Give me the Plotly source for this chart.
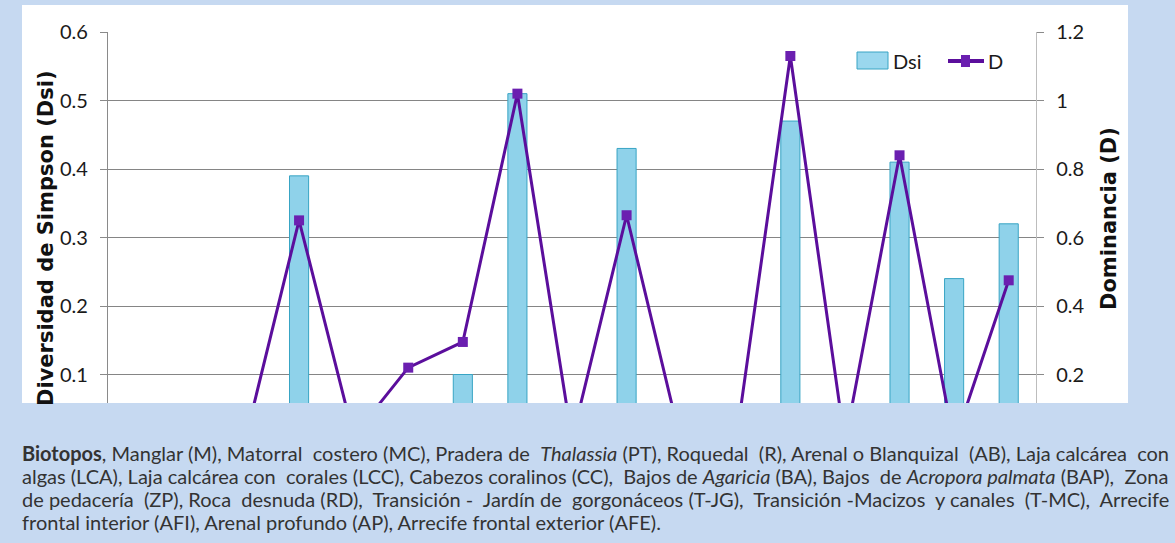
import plotly.graph_objects as go

# Biotope codes along the category axis
biotopos = ["M", "MC", "PT", "R", "AB", "LCA", "LCC", "CC", "BA", "BAP",
            "ZP", "RD", "T-JG", "T-MC", "AFI", "AP", "AFE"]
# Simpson diversity (left axis, bars)
dsi = [0, 0, 0, 0.39, 0, 0, 0.10, 0.51, 0, 0.43, 0, 0, 0.47, 0, 0.41, 0.24, 0.32]
# Dominance (right axis, line)
dom = [0, 0, 0, 0.65, 0.02, 0.22, 0.295, 1.02, 0.01, 0.665, 0, 0, 1.13, 0, 0.84, 0, 0.475]
# Labelled ticks on each value axis
dsi_ticks = [0.1, 0.2, 0.3, 0.4, 0.5, 0.6]
dom_ticks = [0.2, 0.4, 0.6, 0.8, 1.0, 1.2]

caption_lines = [
    "<b>Biotopos</b>, Manglar (M), Matorral costero (MC), Pradera de <i>Thalassia</i> (PT), "
    "Roquedal (R), Arenal o Blanquizal (AB), Laja calcárea con",
    "algas (LCA), Laja calcárea con corales (LCC), Cabezos coralinos (CC), Bajos de "
    "<i>Agaricia</i> (BA), Bajos de <i>Acropora palmata</i> (BAP), Zona",
    "de pedacería (ZP), Roca desnuda (RD), Transición - Jardín de gorgonáceos (T-JG), "
    "Transición -Macizos y canales (T-MC), Arrecife",
    "frontal interior (AFI), Arenal profundo (AP), Arrecife frontal exterior (AFE).",
]
# extra non-breaking spaces spread over each line's word gaps (justified paragraph)
caption_pad = [5, 4, 9, 0]
caption_y = [453, 476, 499, 522]

W, H = 1175, 543
ML, MR, MT, MB = 108, 139, 32, 100
PW, PH = W - ML - MR, H - MT - MB
BG = "#c6d9f1"
PURPLE = "#5b0e9c"
MARK = "#6b1fb0"
BAR = "#8fd2ea"
BAR_EDGE = "#38a4c4"
GRID = "#858585"
TICK_FONT = dict(family="Lato", size=20, color="#1a1a1a")
TITLE_FONT = dict(family="DejaVu Sans", size=21, color="#111111")


def px(x):
    return (x - ML) / PW


def py(y):
    return (H - MB - y) / PH


def justify(text, extra):
    words = text.split(" ")
    gaps = len(words) - 1
    out = words[0]
    for k in range(gaps):
        n = (extra * (k + 1)) // gaps - (extra * k) // gaps if gaps else 0
        out += " " + "\u00a0" * n + words[k + 1]
    return out


fig = go.Figure()
fig.add_trace(go.Bar(
    x=biotopos, y=dsi, name="Dsi",
    marker=dict(color=BAR, line=dict(color=BAR_EDGE, width=1)),
))
fig.add_trace(go.Scatter(
    x=biotopos, y=dom, name="D", yaxis="y2", mode="lines+markers",
    line=dict(color=PURPLE, width=3),
    marker=dict(symbol="square", size=10, color=MARK, line=dict(width=0)),
))

shapes = [
    # white chart panel
    dict(type="rect", xref="paper", yref="paper", layer="below",
         x0=px(22), x1=px(1128), y0=py(403), y1=py(5),
         fillcolor="white", line=dict(width=0)),
    # caption band over the lower part of the chart
    dict(type="rect", xref="paper", yref="paper", layer="above",
         x0=px(0), x1=px(W), y0=py(H), y1=py(403),
         fillcolor=BG, line=dict(width=0)),
    # legend: Dsi swatch
    dict(type="rect", xref="paper", yref="paper", layer="above",
         x0=px(857), x1=px(888), y0=py(69), y1=py(52),
         fillcolor="#9ad7ee", line=dict(color=BAR_EDGE, width=1)),
    # legend: D line sample with marker
    dict(type="line", xref="paper", yref="paper", layer="above",
         x0=px(948), x1=px(984), y0=py(61), y1=py(61),
         line=dict(color=PURPLE, width=4)),
    dict(type="rect", xref="paper", yref="paper", layer="above",
         x0=px(961), x1=px(970), y0=py(67), y1=py(55),
         fillcolor=MARK, line=dict(width=0)),
]

annotations = [
    dict(text="<b>Diversidad de Simpson (Dsi)</b>", textangle=-90,
         xref="paper", yref="paper", x=px(46), y=py(238),
         xanchor="center", yanchor="middle", showarrow=False, font=TITLE_FONT),
    dict(text="<b>Dominancia (D)</b>", textangle=-90,
         xref="paper", yref="paper", x=px(1109), y=py(219),
         xanchor="center", yanchor="middle", showarrow=False, font=TITLE_FONT),
    dict(text="Dsi", xref="paper", yref="paper", x=px(891), y=py(61),
         xanchor="left", yanchor="middle", showarrow=False, font=TICK_FONT),
    dict(text="D", xref="paper", yref="paper", x=px(986), y=py(61),
         xanchor="left", yanchor="middle", showarrow=False, font=TICK_FONT),
]

for line, pad, yc in zip(caption_lines, caption_pad, caption_y):
    annotations.append(dict(
        text=justify(line, pad), xref="paper", yref="paper", x=px(22), y=py(yc),
        xanchor="left", yanchor="middle", align="left", showarrow=False,
        borderpad=0, borderwidth=0,
        font=dict(family="Lato", size=20, color="#333333"),
    ))

fig.update_layout(
    width=W, height=H,
    margin=dict(l=ML, r=MR, t=MT, b=MB, pad=0),
    paper_bgcolor=BG, plot_bgcolor="white",
    showlegend=False, bargap=0.65,
    shapes=shapes, annotations=annotations,
    xaxis=dict(type="category", range=[-0.5, 16.5], showticklabels=False,
               showline=False, showgrid=False, ticks="", zeroline=False),
    yaxis=dict(range=[0, 0.6], tickmode="array", tickvals=dsi_ticks,
               ticktext=[f"{v:g}" for v in dsi_ticks], showgrid=True,
               gridcolor=GRID, gridwidth=1.3, zeroline=False,
               showline=True, linecolor="#8a8a8a", linewidth=1.3,
               ticks="outside", ticklen=7, tickcolor="#8a8a8a", tickwidth=1.3,
               ticklabelstandoff=8, tickfont=TICK_FONT),
    yaxis2=dict(range=[0, 1.2], tickmode="array", tickvals=dom_ticks,
                ticktext=[f"{v:g}" for v in dom_ticks],
                overlaying="y", side="right", showgrid=False, zeroline=False,
                showline=True, linecolor="#bdbdbd", linewidth=1.3,
                ticks="outside", ticklen=7, tickcolor="#8a8a8a", tickwidth=1.3,
                ticklabelstandoff=8, tickfont=TICK_FONT),
)

fig.write_html("out.html")
